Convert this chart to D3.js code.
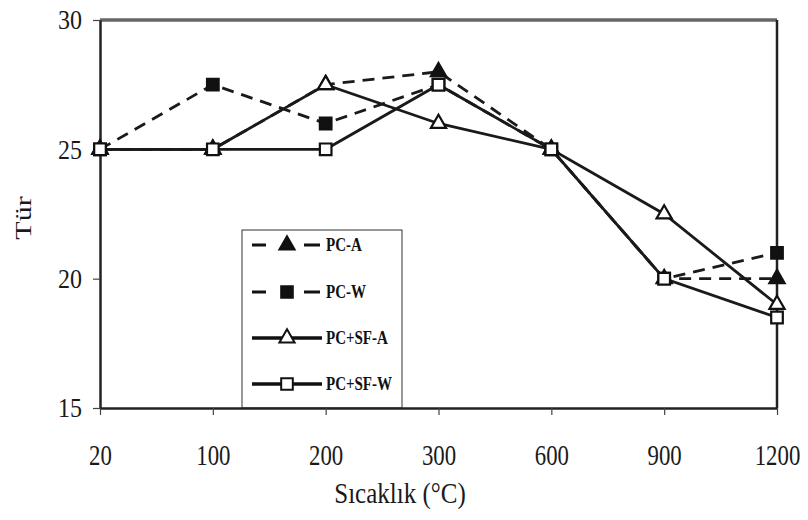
<!DOCTYPE html>
<html>
<head>
<meta charset="utf-8">
<script src="https://cdn.jsdelivr.net/npm/d3@7"></script>
<style>
  body { margin: 0; background: #fff; }
  svg { display: block; }
  svg text { font-family: "Liberation Serif", "DejaVu Serif", serif; }
</style>
</head>
<body>
<div id="chart"></div>
<script>
// data
const temps = ["20", "100", "200", "300", "600", "900", "1200"];
const pcA = [25, 25, 27.5, 28, 25, 20, 20];
const pcW = [25, 27.5, 26, 27.5, 25, 20, 21];
const pcsfA = [25, 25, 27.5, 26, 25, 22.5, 19];
const pcsfW = [25, 25, 25, 27.5, 25, 20, 18.5];
const yTicks = [15, 20, 25, 30];

const seriesList = [
  { name: "PC-A", values: pcA, dashed: true, shape: "tri", filled: true },
  { name: "PC-W", values: pcW, dashed: true, shape: "sq", filled: true },
  { name: "PC+SF-A", values: pcsfA, dashed: false, shape: "tri", filled: false },
  { name: "PC+SF-W", values: pcsfW, dashed: false, shape: "sq", filled: false }
];

const W = 808, H = 520;
const plotLeft = 100, plotRight = 777, plotTop = 20, plotBottom = 408;

const svg = d3.select("#chart").append("svg")
  .attr("width", W)
  .attr("height", H);

const x = d3.scalePoint().domain(temps).range([plotLeft, plotRight]);
const y = d3.scaleLinear().domain([15, 30]).range([plotBottom, plotTop]);

// marker path helpers
const triPath = d3.symbol().type(d3.symbolTriangle).size(100)();
const sqPath = d3.symbol().type(d3.symbolSquare).size(135)();

// legend box (drawn first, lines pass over it)
const legendTop = 230;
svg.append("rect")
  .attr("x", 242).attr("y", legendTop)
  .attr("width", 160).attr("height", plotBottom - legendTop)
  .attr("fill", "#fff")
  .attr("stroke", "#333")
  .attr("stroke-width", 1);

// frame: top and right border
svg.append("line")
  .attr("x1", plotLeft).attr("x2", plotRight)
  .attr("y1", plotTop).attr("y2", plotTop)
  .attr("stroke", "#666").attr("stroke-width", 3.5);
svg.append("line")
  .attr("x1", plotRight).attr("x2", plotRight)
  .attr("y1", plotTop).attr("y2", plotBottom)
  .attr("stroke", "#222").attr("stroke-width", 2.5);

// axes
const xAxis = svg.append("g")
  .attr("transform", `translate(0,${plotBottom})`)
  .call(d3.axisBottom(x).tickSize(7).tickSizeOuter(0));
const yAxis = svg.append("g")
  .attr("transform", `translate(${plotLeft},0)`)
  .call(d3.axisLeft(y).tickValues(yTicks).tickSize(7).tickSizeOuter(0));

[xAxis, yAxis].forEach(ax => {
  ax.attr("font-family", null);
  ax.select(".domain").attr("stroke", "#222").attr("stroke-width", 2.5);
  ax.selectAll(".tick line").attr("stroke", "#444").attr("stroke-width", 1.2);
  ax.selectAll(".tick text")
    .attr("fill", "#1a1a1a")
    .style("font-size", "24px");
});
xAxis.selectAll(".tick text")
  .attr("y", 47.5).attr("dy", 0)
  .attr("transform", "scale(0.95,1.2)");
yAxis.selectAll(".tick text")
  .attr("x", -18)
  .attr("transform", "scale(1,1.15)");

// axis titles
svg.append("text")
  .attr("transform", "translate(400,503) scale(1,1.2)")
  .attr("text-anchor", "middle")
  .attr("fill", "#1a1a1a")
  .style("font-size", "25px")
  .text("Sıcaklık (°C)");

svg.append("text")
  .attr("transform", "translate(31,218) rotate(-90) scale(1.25,1)")
  .attr("text-anchor", "middle")
  .attr("fill", "#1a1a1a")
  .style("font-size", "24px")
  .text("Tür");

// lines
const line = d3.line()
  .x((d, i) => x(temps[i]))
  .y(d => y(d));

seriesList.forEach(s => {
  svg.append("path")
    .datum(s.values)
    .attr("d", line)
    .attr("fill", "none")
    .attr("stroke", "#1a1a1a")
    .attr("stroke-width", 2.8)
    .attr("stroke-dasharray", s.dashed ? "12,8" : null);
});

// markers
seriesList.forEach(s => {
  svg.append("g").selectAll("path")
    .data(s.values)
    .join("path")
    .attr("transform", (d, i) => `translate(${x(temps[i])},${y(d)})`)
    .attr("d", s.shape === "tri" ? triPath : sqPath)
    .attr("fill", s.filled ? "#111" : "#fff")
    .attr("stroke", "#111")
    .attr("stroke-width", 2.2);
});

// legend entries
const legendYs = [245, 292, 338, 384];
seriesList.forEach((s, i) => {
  const ly = legendYs[i];
  const g = svg.append("g");
  if (s.dashed) {
    g.append("line").attr("x1", 252).attr("x2", 266).attr("y1", ly).attr("y2", ly)
      .attr("stroke", "#111").attr("stroke-width", 3);
    g.append("line").attr("x1", 304).attr("x2", 320).attr("y1", ly).attr("y2", ly)
      .attr("stroke", "#111").attr("stroke-width", 3);
  } else {
    g.append("line").attr("x1", 252).attr("x2", 322).attr("y1", ly).attr("y2", ly)
      .attr("stroke", "#111").attr("stroke-width", 3.5);
  }
  g.append("path")
    .attr("transform", `translate(287,${ly})`)
    .attr("d", s.shape === "tri" ? triPath : sqPath)
    .attr("fill", s.filled ? "#111" : "#fff")
    .attr("stroke", "#111")
    .attr("stroke-width", 2);
  g.append("text")
    .attr("transform", `translate(326,${ly + 6}) scale(1,1.25)`)
    .attr("fill", "#111")
    .style("font-size", "15px")
    .style("font-weight", "bold")
    .text(s.name);
});
</script>
</body>
</html>
